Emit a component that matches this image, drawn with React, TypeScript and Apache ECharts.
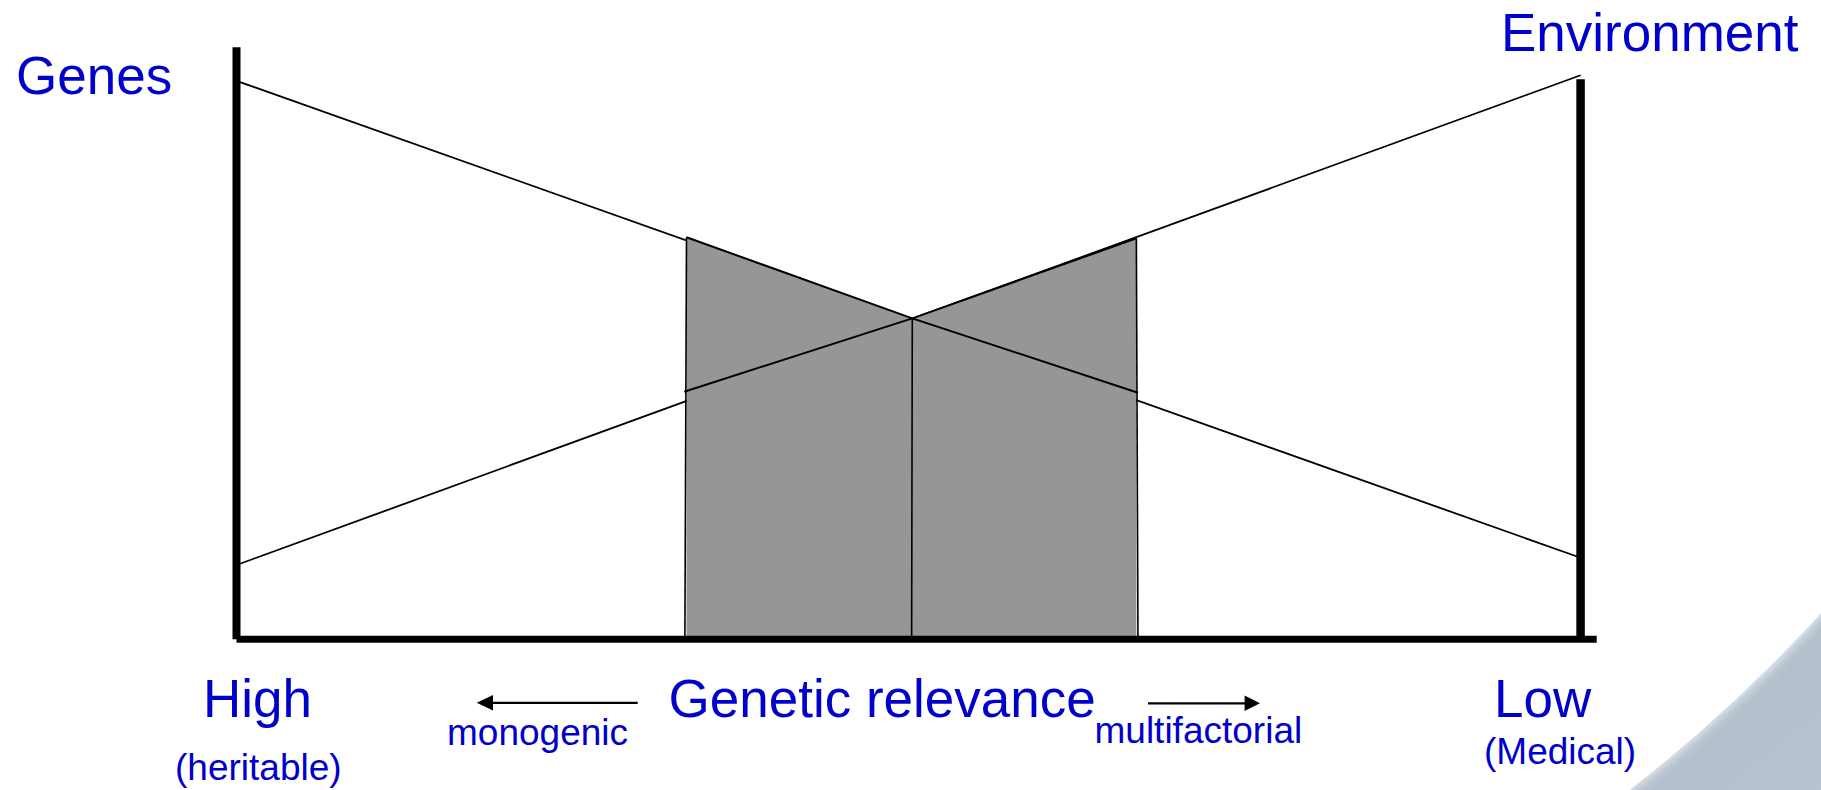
import React, { useEffect, useRef } from "react";
import * as echarts from "echarts";

// ---- data (x: genetic relevance position 0 = High .. 100 = Low; y: relative contribution) ----
const seriesNames = ["Genes", "Environment"];
const genesLine: number[][] = [[0, 100], [100, 14.6]];
const environmentLine: number[][] = [[0, 13.3], [100, 101]];
const overlapTop: number[][] = [[33.48, 71.98], [50.28, 57.47], [66.95, 71.8]];
const overlapInner: number[][] = [[33.31, 44.33], [50.28, 57.47], [67.07, 44.15]];
const overlapLeftEdge: number[][] = [[33.36, 0], [33.48, 71.98]];
const overlapMidEdge: number[][] = [[50.23, 0], [50.28, 57.47]];
const overlapRightEdge: number[][] = [[67.07, 0], [66.95, 71.8]];
const frameLeft: number[][] = [[0, 0], [0, 106]];
const frameRight: number[][] = [[100, 0], [100, 100.3]];
const frameBottom: number[][] = [[0, 0], [101.2, 0]];

const axisEndLabels = ["High", "Low"];
const axisEndNotes = ["(heritable)", "(Medical)"];
const axisTitle = "Genetic relevance";
const directionLabels = ["monogenic", "multifactorial"];

const BLUE = "#0000cc";
const FONT = "'Liberation Sans', Arial, Helvetica, sans-serif";
const GRAY = "#969696";

function lineSeries(data: number[][], width: number, z: number, extra: any = {}) {
  return {
    type: "line",
    data,
    symbol: "none",
    clip: false,
    silent: true,
    z,
    lineStyle: { color: "#000", width, cap: "butt" },
    ...extra,
  };
}

function txt(text: string, x: number, y: number, size: number) {
  return {
    type: "text",
    x,
    y,
    z: 20,
    silent: true,
    style: {
      text,
      fill: BLUE,
      fontSize: size,
      fontFamily: FONT,
      align: "left",
      verticalAlign: "middle",
    },
  };
}

export default function App() {
  const ref = useRef<HTMLDivElement>(null);

  useEffect(() => {
    if (!ref.current) return;
    const chart = echarts.init(ref.current, undefined, { renderer: "svg" });
    const big = 53;
    const small = 37;
    const option: any = {
      animation: false,
      backgroundColor: "#ffffff",
      grid: { left: 236.5, right: 224.3, top: 47.3, bottom: 150.7, outerBoundsMode: "none", containLabel: false },
      xAxis: {
        type: "value",
        min: 0,
        max: 101.2,
        axisLine: { show: false },
        axisTick: { show: false },
        axisLabel: { show: false },
        splitLine: { show: false },
      },
      yAxis: {
        type: "value",
        min: 0,
        max: 106,
        axisLine: { show: false },
        axisTick: { show: false },
        axisLabel: { show: false },
        splitLine: { show: false },
      },
      series: [
        lineSeries(genesLine, 1.8, 2, { name: seriesNames[0] }),
        lineSeries(environmentLine, 1.8, 2, { name: seriesNames[1] }),
        lineSeries(overlapTop, 2, 3, { areaStyle: { color: GRAY, opacity: 1, origin: "start" } }),
        lineSeries(overlapInner, 2, 4),
        lineSeries(overlapLeftEdge, 1.6, 4),
        lineSeries(overlapMidEdge, 1.6, 4),
        lineSeries(overlapRightEdge, 1.6, 4),
        lineSeries(frameLeft, 8, 6),
        lineSeries(frameRight, 8.5, 6),
        lineSeries(frameBottom, 7, 6),
      ],
      graphic: [
        {
          type: "rect",
          z: -10,
          silent: true,
          shape: { x: 1450, y: 480, width: 371, height: 310 },
          style: {
            fill: new echarts.graphic.LinearGradient(0, 0, 1, 1, [
              { offset: 0, color: "#a3b1c0" },
              { offset: 1, color: "#b8c3cf" },
            ]),
          },
        },
        {
          type: "circle",
          z: -9,
          silent: true,
          shape: { cx: 646, cy: -468, r: 1597 },
          style: { fill: "#ffffff", shadowBlur: 14, shadowColor: "rgba(255,255,255,1)" },
        },
        txt(seriesNames[0], 16, 75.1, big),
        txt(seriesNames[1], 1501, 32.6, big),
        txt(axisEndLabels[0], 203, 698.6, big),
        txt(axisEndLabels[1], 1494, 698.6, big),
        txt(axisTitle, 668.5, 698.6, big),
        txt(directionLabels[0], 447, 732.2, small),
        txt(directionLabels[1], 1094.5, 730.7, small),
        txt(axisEndNotes[0], 175, 767.2, small),
        txt(axisEndNotes[1], 1484, 751.2, small),
        {
          type: "line",
          z: 20,
          silent: true,
          shape: { x1: 490, y1: 702.8, x2: 637.7, y2: 702.8 },
          style: { stroke: "#000", lineWidth: 2.2 },
        },
        {
          type: "polygon",
          z: 20,
          silent: true,
          shape: { points: [[476.7, 702.8], [493, 695], [493, 710.6]] },
          style: { fill: "#000" },
        },
        {
          type: "line",
          z: 20,
          silent: true,
          shape: { x1: 1148, y1: 703.3, x2: 1247, y2: 703.3 },
          style: { stroke: "#000", lineWidth: 2.2 },
        },
        {
          type: "polygon",
          z: 20,
          silent: true,
          shape: { points: [[1260, 703.3], [1244.6, 695.5], [1244.6, 711.1]] },
          style: { fill: "#000" },
        },
      ],
    };
    chart.setOption(option);
    return () => chart.dispose();
  }, []);

  return (
    <div
      ref={ref}
      style={{ position: "fixed", left: 0, top: 0, width: 1821, height: 790, background: "#fff" }}
    />
  );
}
